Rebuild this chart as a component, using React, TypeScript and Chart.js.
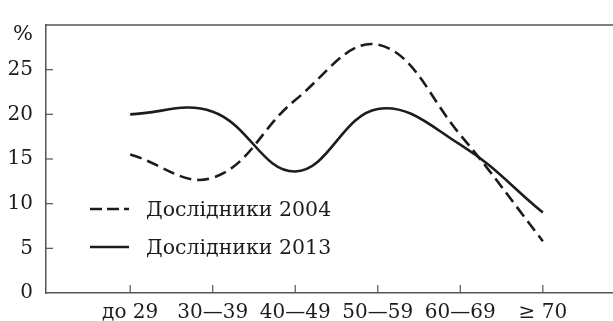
import React, { useEffect, useRef } from 'react';
import { Chart, registerables } from 'chart.js';

Chart.register(...registerables);

const categories = ['до 29', '30—39', '40—49', '50—59', '60—69', '≥ 70'];
const series2004 = [15.5, 12.9, 21.6, 27.8, 17.7, 5.8];
const series2013 = [20.0, 20.3, 13.6, 20.6, 16.6, 9.0];
const yTickValues = [0, 5, 10, 15, 20, 25];
const yUnit = '%';
const label2004 = 'Дослідники 2004';
const label2013 = 'Дослідники 2013';

const FONT = "'DejaVu Serif', serif";
const AXIS = '#555555';
const INK = '#1c1c1c';

export default function App() {
  const ref = useRef<HTMLCanvasElement | null>(null);

  useEffect(() => {
    document.body.style.margin = '0';
    const canvas = ref.current;
    if (!canvas) return;

    const decor = {
      id: 'decor',
      afterDraw(chart: any) {
        const { ctx, chartArea, scales } = chart;
        const xs = scales.x;
        const ys = scales.y;
        ctx.save();
        ctx.strokeStyle = AXIS;
        ctx.lineWidth = 1.5;
        ctx.beginPath();
        ctx.moveTo(chartArea.left, chartArea.top);
        ctx.lineTo(chartArea.right, chartArea.top);
        ctx.stroke();
        ctx.lineWidth = 1.2;
        categories.forEach((_, i) => {
          const px = xs.getPixelForValue(i);
          ctx.beginPath();
          ctx.moveTo(px, chartArea.bottom);
          ctx.lineTo(px, chartArea.bottom - 8);
          ctx.stroke();
        });
        yTickValues.forEach((v) => {
          if (v === 0) return;
          const py = ys.getPixelForValue(v);
          ctx.beginPath();
          ctx.moveTo(chartArea.left, py);
          ctx.lineTo(chartArea.left + 7, py);
          ctx.stroke();
        });
        ctx.fillStyle = INK;
        ctx.font = `21px ${FONT}`;
        ctx.textAlign = 'right';
        ctx.textBaseline = 'middle';
        ctx.fillText(yUnit, 33, ys.getPixelForValue(30) + 10);

        const items = [
          { label: chart.data.datasets[0].label, dash: [12, 5], y: 209 },
          { label: chart.data.datasets[1].label, dash: [], y: 247 },
        ];
        items.forEach((it) => {
          ctx.strokeStyle = INK;
          ctx.lineWidth = 2.6;
          ctx.setLineDash(it.dash);
          ctx.beginPath();
          ctx.moveTo(90, it.y);
          ctx.lineTo(129, it.y);
          ctx.stroke();
          ctx.setLineDash([]);
          ctx.fillStyle = INK;
          ctx.textAlign = 'left';
          ctx.textBaseline = 'middle';
          ctx.font = `20.5px ${FONT}`;
          ctx.fillText(it.label, 146, it.y + 2);
        });
        ctx.restore();
      },
    };

    const chart = new Chart(canvas, {
      type: 'line',
      data: {
        datasets: [
          {
            label: label2004,
            data: series2004.map((v, i) => ({ x: i, y: v })),
            borderColor: INK,
            borderWidth: 2.6,
            borderDash: [12, 6],
            pointRadius: 0,
            tension: 0.4,
            fill: false,
          },
          {
            label: label2013,
            data: series2013.map((v, i) => ({ x: i, y: v })),
            borderColor: INK,
            borderWidth: 2.6,
            pointRadius: 0,
            tension: 0.4,
            fill: false,
          },
        ],
      },
      options: {
        animation: false,
        responsive: false,
        maintainAspectRatio: false,
        layout: { padding: { top: 10, left: 0, right: 0, bottom: 0 } },
        plugins: { legend: { display: false }, tooltip: { enabled: false } },
        scales: {
          x: {
            type: 'linear',
            min: -1.02,
            max: 5.85,
            afterBuildTicks: (scale: any) => {
              scale.ticks = categories.map((_, i) => ({ value: i }));
            },
            afterFit: (scale: any) => {
              scale.height = 28;
            },
            grid: { display: false, drawTicks: false },
            border: { display: true, color: AXIS, width: 1.5 },
            ticks: {
              autoSkip: false,
              maxRotation: 0,
              padding: 8,
              color: INK,
              font: { family: FONT, size: 20 },
              callback: (v: any) => categories[Math.round(Number(v))] ?? '',
            },
          },
          y: {
            type: 'linear',
            min: 0,
            max: 30,
            afterBuildTicks: (scale: any) => {
              scale.ticks = yTickValues.map((v) => ({ value: v }));
            },
            afterFit: (scale: any) => {
              scale.width = 46;
            },
            grid: { display: false, drawTicks: false },
            border: { display: true, color: AXIS, width: 1.5 },
            ticks: {
              padding: 13,
              color: INK,
              font: { family: FONT, size: 20 },
              callback: (v: any) => String(v),
            },
          },
        },
      },
      plugins: [decor],
    });

    return () => chart.destroy();
  }, []);

  return <canvas ref={ref} width={613} height={321} style={{ display: 'block' }} />;
}
